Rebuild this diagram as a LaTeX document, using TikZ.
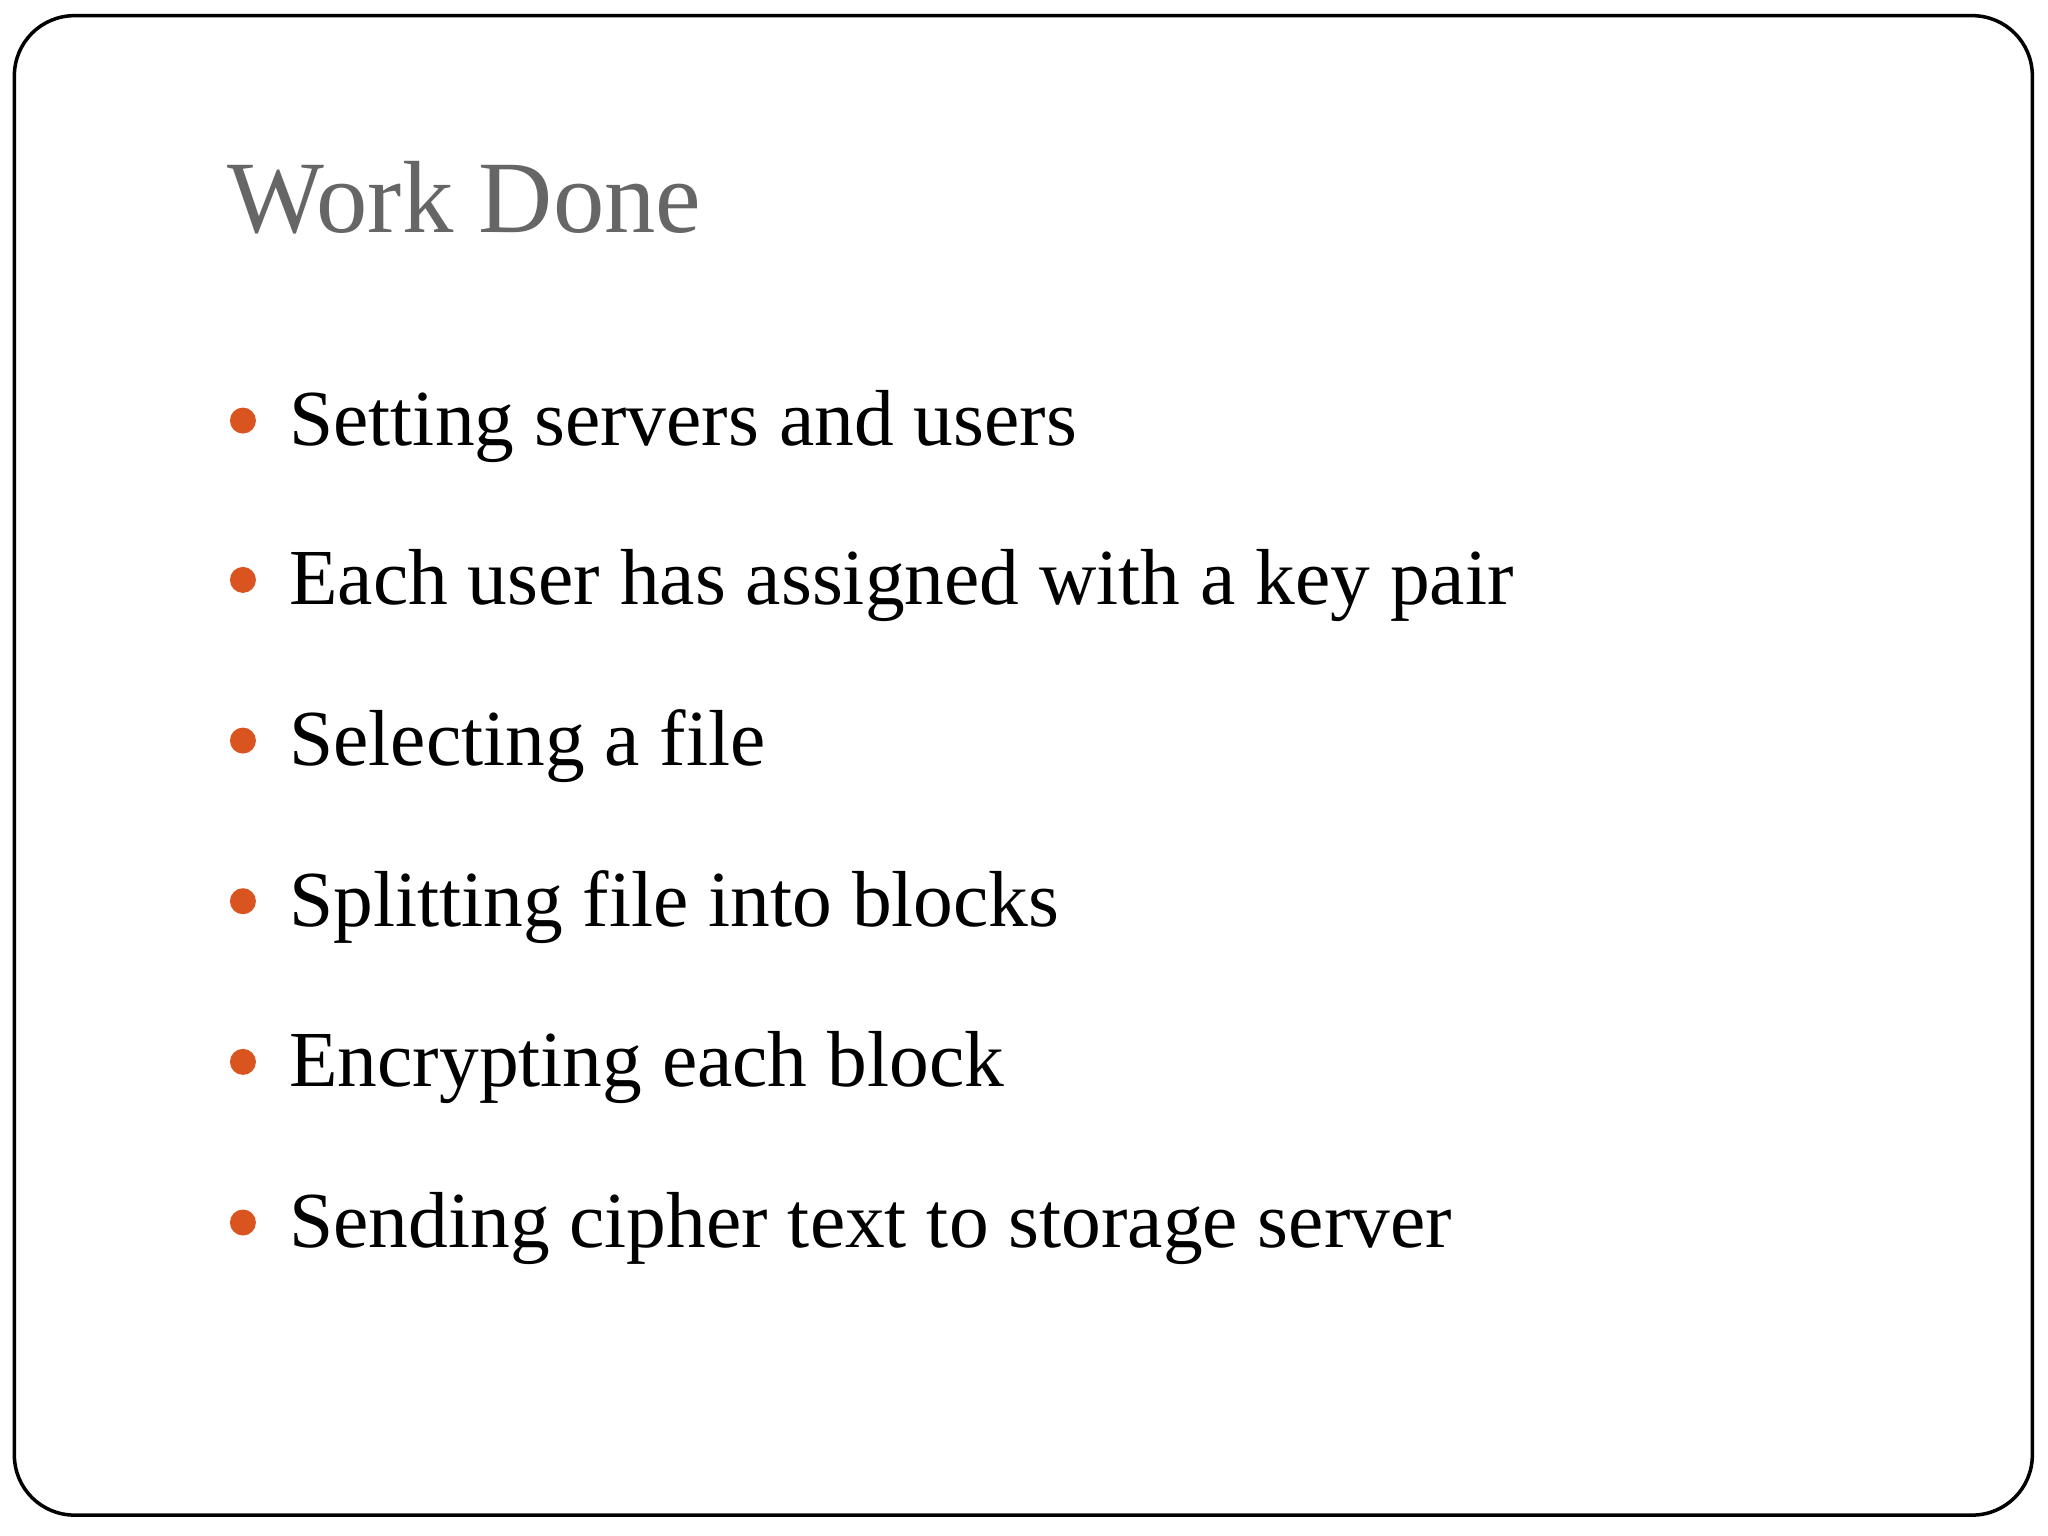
\documentclass[tikz,border=0pt]{standalone}
\usepackage{fontspec}
\setmainfont{Liberation Serif}
\definecolor{bul}{HTML}{D9541E}
\definecolor{ttl}{HTML}{666666}
\begin{document}
\begin{tikzpicture}[x=0.01306cm,y=-0.01306cm,
  item/.style={anchor=base west,inner sep=0,font=\fontsize{22.6}{26}\selectfont},
  dot/.style={circle,fill=bul,inner sep=0,minimum size=0.26cm}]
\useasboundingbox (0,0) rectangle (1568,1176);
\draw[line width=1pt,rounded corners=0.6cm] (11,12) rectangle (1556,1160);
\node[anchor=base west,inner sep=0,text=ttl,font=\fontsize{29.2}{34}\selectfont] (title) at (174,178) {Work Done};
\foreach \y/\t [count=\i] in {341/Setting servers and users,463/Each user has assigned with a key pair,586/Selecting a file,709/Splitting file into blocks,832/Encrypting each block,955/Sending cipher text to storage server}{
  \node[dot] (b\i) at (186,\y-19) {};
  \node[item] (t\i) at (221,\y) {\t};
}
\end{tikzpicture}
\end{document}
